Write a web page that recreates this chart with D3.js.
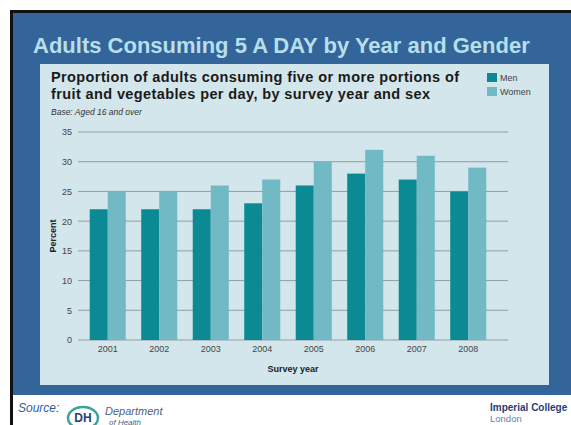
<!DOCTYPE html>
<html>
<head>
<meta charset="utf-8">
<script src="https://cdn.jsdelivr.net/npm/d3@7"></script>
<style>
  body { margin: 0; background: #fff; }
  svg { display: block; font-family: "Liberation Sans", Arial, sans-serif; }
</style>
</head>
<body>
<svg id="chart" width="571" height="425"></svg>
<script>
// data
var years = ["2001", "2002", "2003", "2004", "2005", "2006", "2007", "2008"];
var men = [22, 22, 22, 23, 26, 28, 27, 25];
var women = [25, 25, 26, 27, 30, 32, 31, 29];
var series = ["Men", "Women"];
var yTicks = [0, 5, 10, 15, 20, 25, 30, 35];

var colMen = "#0b8a93", colWomen = "#70b9c5";

var svg = d3.select("#chart");

// slide frame
svg.append("rect").attr("x", 10).attr("y", 10).attr("width", 561).attr("height", 415).attr("fill", "#111");
svg.append("rect").attr("x", 13).attr("y", 13).attr("width", 558).attr("height", 382).attr("fill", "#33659a");
svg.append("rect").attr("x", 13).attr("y", 395).attr("width", 558).attr("height", 30).attr("fill", "#fff");

svg.append("text")
  .attr("x", 33).attr("y", 53)
  .attr("fill", "#b6dfea")
  .style("font-size", "22px").style("font-weight", "bold")
  .text("Adults Consuming 5 A DAY by Year and Gender");

// chart panel
svg.append("rect").attr("x", 40).attr("y", 64).attr("width", 509).attr("height", 321).attr("fill", "#d3e6ec");

var head = svg.append("g").style("font-weight", "bold").style("font-size", "14.5px").attr("fill", "#1a1a1a");
head.append("text").attr("x", 51).attr("y", 82).attr("textLength", 408).attr("lengthAdjust", "spacing")
  .text("Proportion of adults consuming five or more portions of");
head.append("text").attr("x", 51).attr("y", 99).attr("textLength", 379).attr("lengthAdjust", "spacing")
  .text("fruit and vegetables per day, by survey year and sex");

svg.append("text").attr("x", 51).attr("y", 115)
  .style("font-size", "8.5px").style("font-style", "italic").attr("fill", "#333")
  .text("Base: Aged 16 and over");

// legend
var leg = svg.append("g").attr("transform", "translate(487,73)");
series.forEach(function(s, i) {
  leg.append("rect").attr("x", 0).attr("y", i * 14).attr("width", 10).attr("height", 9)
    .attr("fill", i == 0 ? colMen : colWomen);
  leg.append("text").attr("x", 13).attr("y", i * 14 + 8)
    .style("font-size", "9px").attr("fill", "#444").text(s);
});

// scales
var x = d3.scaleBand().domain(years).range([82, 494]).paddingInner(0.3).paddingOuter(0.15);
var y = d3.scaleLinear().domain([0, 35]).range([340, 132]);

var grid = svg.append("g");
grid.selectAll("line").data(yTicks).enter().append("line")
  .attr("x1", 78).attr("x2", 508)
  .attr("y1", function(d) { return y(d); })
  .attr("y2", function(d) { return y(d); })
  .attr("stroke", "#8f9fa3").attr("stroke-width", 1);

var yAxis = d3.axisLeft(y).tickValues(yTicks).tickSize(0).tickPadding(6);
svg.append("g").attr("transform", "translate(78,0)").call(yAxis)
  .call(function(g) { g.select(".domain").remove(); })
  .selectAll("text").style("font-size", "9px").attr("fill", "#444").attr("font-family", null);

var rows = years.map(function(yr, i) { return {year: yr, vals: [men[i], women[i]]}; });
var x1 = d3.scaleBand().domain([0, 1]).range([0, x.bandwidth()]);

var grp = svg.append("g").selectAll("g").data(rows).enter().append("g")
  .attr("transform", function(d) { return "translate(" + x(d.year) + ",0)"; });
grp.selectAll("rect").data(function(d) { return d.vals; }).enter().append("rect")
  .attr("x", function(d, i) { return x1(i); })
  .attr("width", x1.bandwidth())
  .attr("y", function(d) { return y(d); })
  .attr("height", function(d) { return y(0) - y(d); })
  .attr("fill", function(d, i) { return i == 0 ? colMen : colWomen; });

var xAxis = d3.axisBottom(x).tickSize(0).tickPadding(6);
svg.append("g").attr("transform", "translate(0,340)").call(xAxis)
  .call(function(g) { g.select(".domain").remove(); })
  .selectAll("text").style("font-size", "9px").attr("fill", "#444").attr("font-family", null);

svg.append("text").attr("x", 293).attr("y", 372).attr("text-anchor", "middle")
  .style("font-size", "9px").style("font-weight", "bold").attr("fill", "#222").text("Survey year");

svg.append("text").attr("transform", "translate(56,236) rotate(-90)").attr("text-anchor", "middle")
  .style("font-size", "9px").style("font-weight", "bold").attr("fill", "#222").text("Percent");

// footer
svg.append("text").attr("x", 18).attr("y", 412)
  .style("font-size", "12px").style("font-style", "italic").attr("fill", "#2f5d9c").text("Source:");

var dh = svg.append("g");
dh.append("ellipse").attr("cx", 83).attr("cy", 418).attr("rx", 15).attr("ry", 11)
  .attr("fill", "none").attr("stroke", "#3aa39f").attr("stroke-width", 2.5);
dh.append("text").attr("x", 83).attr("y", 422).attr("text-anchor", "middle")
  .style("font-size", "12px").style("font-weight", "bold").attr("fill", "#27407a").text("DH");
dh.append("text").attr("x", 105).attr("y", 415)
  .style("font-size", "11px").style("font-style", "italic").attr("fill", "#4a5f8a").text("Department");
dh.append("text").attr("x", 109).attr("y", 424.5)
  .style("font-size", "8px").style("font-style", "italic").attr("fill", "#4a5f8a").text("of Health");

svg.append("text").attr("x", 490).attr("y", 411)
  .style("font-size", "10px").style("font-weight", "bold").attr("fill", "#1f3e78").text("Imperial College");
svg.append("text").attr("x", 490).attr("y", 422)
  .style("font-size", "9.5px").attr("fill", "#6a7fa8").text("London");
</script>
</body>
</html>
